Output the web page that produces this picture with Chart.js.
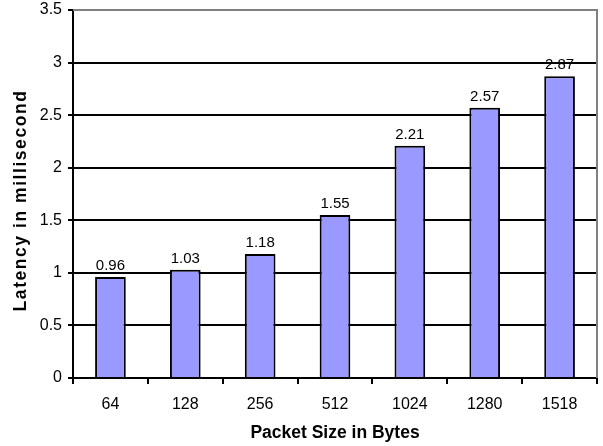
<!DOCTYPE html>
<html><head><meta charset="utf-8">
<script src="https://cdn.jsdelivr.net/npm/chart.js@4/dist/chart.umd.min.js"></script>
<style>html,body{margin:0;padding:0;background:#fff}#wrap{width:603px;height:446px}</style>
</head><body><div id="wrap"><canvas id="c" width="603" height="446"></canvas></div>
<script>
const categories = ["64","128","256","512","1024","1280","1518"];
const latency = [0.96,1.03,1.18,1.55,2.21,2.57,2.87];
const yTicks = [0,0.5,1,1.5,2,2.5,3,3.5];
const xTitle = "Packet Size in Bytes";
const yTitle = "Latency in millisecond";

const FONT = "'Liberation Sans', Arial, sans-serif";

const valueLabels = {
  id: 'valueLabels',
  afterDatasetsDraw(chart) {
    const ctx = chart.ctx;
    const meta = chart.getDatasetMeta(0);
    ctx.save();
    ctx.font = "15px " + FONT;
    ctx.fillStyle = "#000";
    ctx.textAlign = "center";
    ctx.textBaseline = "alphabetic";
    meta.data.forEach((bar, i) => {
      ctx.fillText(String(latency[i]), bar.x, bar.y - 7);
    });
    ctx.restore();
  }
};

const yTitlePlugin = {
  id: 'yTitlePlugin',
  afterDraw(chart) {
    const ctx = chart.ctx;
    const a = chart.chartArea;
    ctx.save();
    ctx.translate(21.5, (a.top + a.bottom) / 2 + 6.5);
    ctx.rotate(-Math.PI / 2);
    ctx.font = "bold 17.5px " + FONT;
    try { ctx.letterSpacing = "1.55px"; } catch (e) {}
    ctx.fillStyle = "#000";
    ctx.textAlign = "center";
    ctx.textBaseline = "middle";
    ctx.fillText(yTitle, 0, 0);
    ctx.restore();
  }
};

const frame = {
  id: 'frame',
  beforeDatasetsDraw(chart) {
    const {ctx, chartArea: a} = chart;
    ctx.save();
    ctx.strokeStyle = "#808080";
    ctx.lineWidth = 2;
    ctx.beginPath();
    ctx.moveTo(a.left, a.top); ctx.lineTo(a.right, a.top); ctx.lineTo(a.right, a.bottom);
    ctx.stroke();
    ctx.restore();
  }
};

function zeroPad(s) { s.paddingTop = 0; s.paddingBottom = 0; s.paddingLeft = 0; s.paddingRight = 0; }

new Chart(document.getElementById('c'), {
  type: 'bar',
  data: {
    labels: categories,
    datasets: [{
      data: latency,
      backgroundColor: '#9999FF',
      borderColor: '#000000',
      borderWidth: 2,
      borderSkipped: 'bottom',
      categoryPercentage: 1.0,
      barPercentage: 0.41
    }]
  },
  options: {
    responsive: false,
    animation: false,
    devicePixelRatio: 1,
    layout: { padding: { left: 0, right: 6, top: 10, bottom: 0 } },
    plugins: { legend: { display: false }, tooltip: { enabled: false } },
    scales: {
      x: {
        grid: { display: true, drawOnChartArea: false, drawTicks: true, tickLength: 6, color: '#000', lineWidth: 2, offset: true },
        border: { display: true, color: '#000', width: 2 },
        ticks: { color: '#000', font: { family: FONT, size: 16 }, padding: 11, maxRotation: 0 },
        title: { display: true, text: xTitle, color: '#000', font: { family: FONT, size: 17.5, weight: 'bold' }, padding: { top: 0, bottom: 2 } },
        afterFit(s) { s.height = 68; zeroPad(s); }
      },
      y: {
        min: 0, max: 3.5,
        afterBuildTicks(s) { s.ticks = yTicks.map(v => ({ value: v })); },
        grid: { color: '#000', lineWidth: 2, drawTicks: true, tickLength: 5 },
        border: { display: true, color: '#000', width: 2 },
        ticks: { color: '#000', font: { family: FONT, size: 16 }, padding: 6, callback: v => String(v) },
        title: { display: false, text: yTitle },
        afterFit(s) { s.width = 73; zeroPad(s); }
      }
    }
  },
  plugins: [frame, valueLabels, yTitlePlugin]
});
</script></body></html>
